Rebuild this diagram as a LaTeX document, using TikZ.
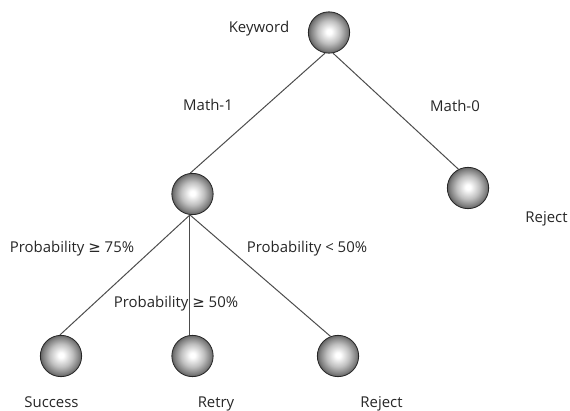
\documentclass[tikz,border=0pt]{standalone}
\usepackage{fontspec}
\setmainfont{Open Sans}
\newfontfamily\symfont{DejaVu Sans}
\pgfdeclareradialshading{sphereshade}{\pgfpoint{0bp}{1bp}}{%
  color(0bp)=(white);
  color(3bp)=(white);
  color(14bp)=(black!25);
  color(22bp)=(black!50);
  color(25bp)=(black!62);
  color(50bp)=(black!62)}
\tikzset{
  ball/.style={circle, minimum size=31pt, inner sep=0pt, shading=sphereshade, draw=black!85, line width=0.6pt},
  lbl/.style={anchor=base, inner sep=0pt, font=\fontsize{11.2pt}{13pt}\selectfont, text=black!85},
  edge/.style={draw=black!70, line width=0.75pt}
}
\begin{document}
\begin{tikzpicture}[x=0.75pt, y=-0.75pt]
\useasboundingbox (0,0) rectangle (570,410);
% nodes
\node[ball] (kw) at (329,32.5) {};
\node[ball] (m1) at (192.5,194) {};
\node[ball] (m0) at (468,188) {};
\node[ball] (succ) at (61,356) {};
\node[ball] (retry) at (192.5,356) {};
\node[ball] (rej) at (338,356) {};
% connectors
\draw[edge] (kw.259) -- (m1.96);
\draw[edge] (kw.281) -- (m0.117);
\draw[edge] (m1.263) -- (succ.93);
\draw[edge] (m1.263) -- (retry.97);
\draw[edge] (m1.263) -- (rej.111);
% labels
\node[lbl] (tkw) at (259,33) {Keyword};
\node[lbl] (tm1) at (208,110) {Math-1};
\node[lbl] (tm0) at (455,111) {Math-0};
\node[lbl] (trej0) at (546.5,222) {Reject};
\node[lbl] (tp75) at (72,252) {Probability {\symfont ≥} 75\%};
\node[lbl] (tp50l) at (307,252) {Probability < 50\%};
\node[lbl] (tp50) at (176,307) {Probability {\symfont ≥} 50\%};
\node[lbl] (tsucc) at (51.5,407) {Success};
\node[lbl] (tretry) at (216,407) {Retry};
\node[lbl] (trej) at (381.5,407) {Reject};
\end{tikzpicture}
\end{document}
